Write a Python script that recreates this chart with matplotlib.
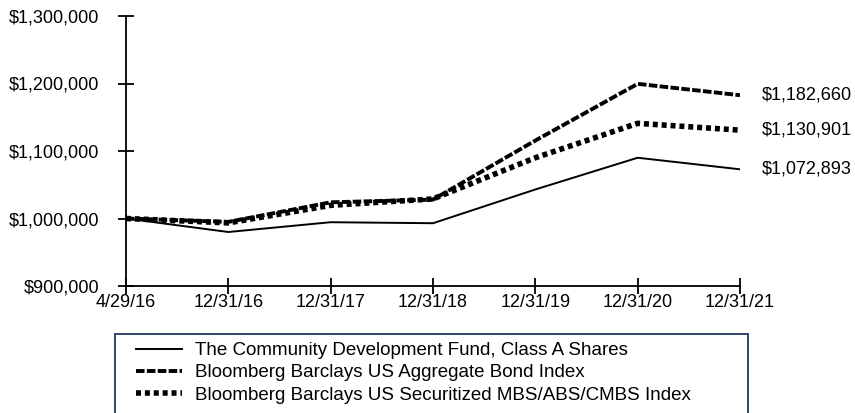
import matplotlib
matplotlib.use("Agg")
import matplotlib.pyplot as plt
from matplotlib.ticker import FuncFormatter
from matplotlib.patches import Rectangle

plt.rcParams['font.family'] = ['Liberation Sans', 'DejaVu Sans']

dates = ["4/29/16", "12/31/16", "12/31/17", "12/31/18", "12/31/19", "12/31/20", "12/31/21"]
fund = [1000000, 980000, 994500, 993000, 1043000, 1090000, 1072893]
agg = [1000000, 995000, 1024000, 1028000, 1115500, 1199500, 1182660]
mbs = [1000000, 993500, 1019500, 1029000, 1090000, 1141000, 1130901]
labels = ["The Community Development Fund, Class A Shares",
          "Bloomberg Barclays US Aggregate Bond Index",
          "Bloomberg Barclays US Securitized MBS/ABS/CMBS Index"]
end_labels = ["$1,072,893", "$1,182,660", "$1,130,901"]

W, H = 855, 413
fig = plt.figure(figsize=(W / 100, H / 100), dpi=100)
ax = fig.add_axes([126 / W, 1 - 286 / H, (740 - 126) / W, (286 - 16) / H])
x = list(range(len(dates)))
l1, = ax.plot(x, fund, color='black', lw=1.4, label=labels[0])
l2, = ax.plot(x, agg, color='black', lw=2.8, linestyle=(0, (2.2, 0.6)), label=labels[1])
l3, = ax.plot(x, mbs, color='black', lw=4, linestyle=(0, (0.9, 0.7)), label=labels[2])

ax.set_xlim(0, len(dates) - 1)
ax.set_ylim(900000, 1300000)
ax.set_yticks([900000, 1000000, 1100000, 1200000, 1300000])
ax.yaxis.set_major_formatter(FuncFormatter(lambda v, p: f"${v:,.0f}"))
ax.set_xticks(x)
ax.set_xticklabels(dates)
for s in ['top', 'right']:
    ax.spines[s].set_visible(False)
for s in ['left', 'bottom']:
    ax.spines[s].set_linewidth(1.3)
ax.tick_params(axis='both', direction='inout', length=11, width=1.3, labelsize=13)
ax.tick_params(axis='y', pad=13.5)
ax.tick_params(axis='x', pad=0)

for series, lab in zip([fund, agg, mbs], end_labels):
    ax.annotate(lab, xy=(x[-1], series[-1]), xytext=(16, 0), textcoords='offset points',
                va='center', ha='left', fontsize=13, annotation_clip=False)

# legend frame
fig.patches.append(Rectangle((115 / W, -0.05), (748 - 115) / W, 1 - 334 / H + 0.05,
                             transform=fig.transFigure, fill=False,
                             edgecolor='#1F3864', lw=1.3))
leg = fig.legend(handles=[l1, l2, l3], loc='upper left',
                 bbox_to_anchor=(136 / W, 1 - 342 / H),
                 frameon=False, fontsize=13.5,
                 handlelength=2.45, handletextpad=0.72, labelspacing=0.27,
                 borderpad=0, borderaxespad=0)

fig.savefig("out.png", dpi=100)
